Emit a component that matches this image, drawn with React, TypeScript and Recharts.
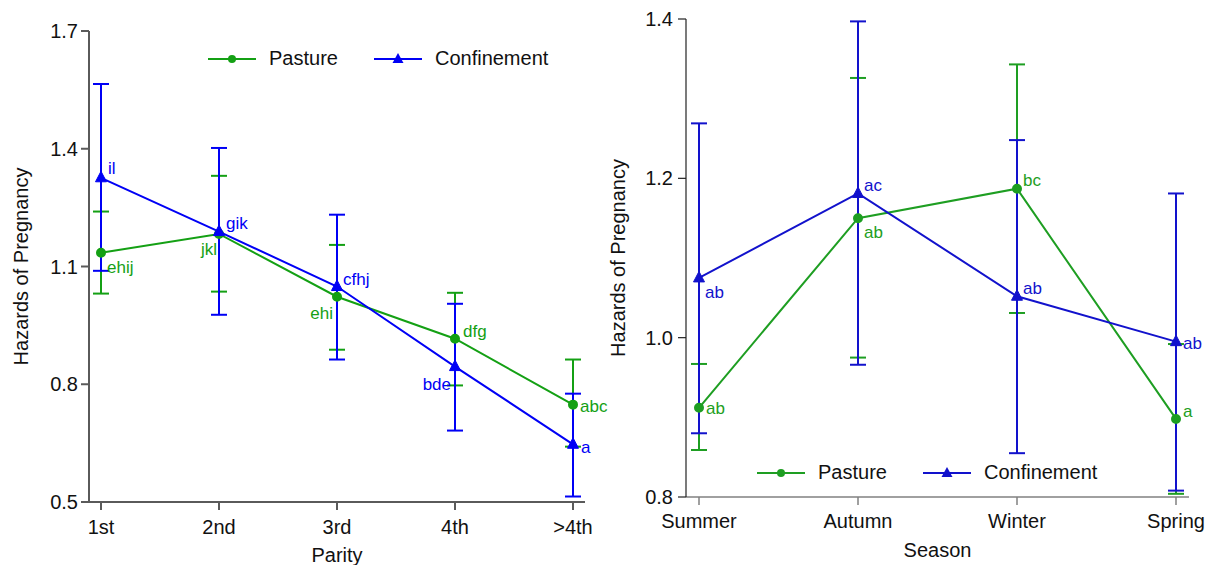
import React from 'react';
import { LineChart, Line, XAxis, YAxis, ErrorBar, LabelList } from 'recharts';

const FONT = '"Liberation Sans", Arial, sans-serif';

// Parity panel
const parityCategories = ['1st', '2nd', '3rd', '4th', '>4th'];
const parityPasture = [1.135, 1.183, 1.023, 0.916, 0.748];
const parityPastureLow = [1.031, 1.036, 0.888, 0.797, 0.641];
const parityPastureHigh = [1.24, 1.331, 1.155, 1.033, 0.863];
const parityPastureLetters = ['ehij', 'jkl', 'ehi', 'dfg', 'abc'];
const parityConfinement = [1.326, 1.189, 1.049, 0.845, 0.647];
const parityConfinementLow = [1.089, 0.977, 0.863, 0.682, 0.514];
const parityConfinementHigh = [1.565, 1.402, 1.232, 1.005, 0.776];
const parityConfinementLetters = ['il', 'gik', 'cfhj', 'bde', 'a'];
const parityTicks = [0.5, 0.8, 1.1, 1.4, 1.7];

// Season panel
const seasonCategories = ['Summer', 'Autumn', 'Winter', 'Spring'];
const seasonPasture = [0.912, 1.15, 1.187, 0.898];
const seasonPastureLow = [0.859, 0.975, 1.031, 0.804];
const seasonPastureHigh = [0.967, 1.326, 1.343, 0.992];
const seasonPastureLetters = ['ab', 'ab', 'bc', 'a'];
const seasonConfinement = [1.075, 1.181, 1.052, 0.995];
const seasonConfinementLow = [0.88, 0.966, 0.855, 0.808];
const seasonConfinementHigh = [1.269, 1.397, 1.248, 1.181];
const seasonConfinementLetters = ['ab', 'ac', 'ab', 'ab'];
const seasonTicks = [0.8, 1.0, 1.2, 1.4];

type Anchor = 'start' | 'end';
type LabelPos = [number, number, Anchor];

// letter placement around each point: dx, dy, anchor
const parityPastureLabelPos: LabelPos[] = [[6, 15, 'start'], [-2, 16, 'end'], [-4, 17, 'end'], [8, -7, 'start'], [7, 2, 'start']];
const parityConfLabelPos: LabelPos[] = [[7, -9, 'start'], [7, -8, 'start'], [6, -7, 'start'], [-4, 18, 'end'], [8, 3, 'start']];
const seasonPastureLabelPos: LabelPos[] = [[7, 1, 'start'], [6, 14, 'start'], [6, -8, 'start'], [7, -7, 'start']];
const seasonConfLabelPos: LabelPos[] = [[6, 15, 'start'], [6, -8, 'start'], [6, -8, 'start'], [7, 2, 'start']];

const buildRows = (
  cats: string[],
  p: number[], pLow: number[], pHigh: number[], pLet: string[],
  c: number[], cLow: number[], cHigh: number[], cLet: string[]
) =>
  cats.map((name, i) => ({
    name,
    pasture: p[i],
    pastureErr: [p[i] - pLow[i], pHigh[i] - p[i]],
    pastureLetter: pLet[i],
    confinement: c[i],
    confinementErr: [c[i] - cLow[i], cHigh[i] - c[i]],
    confinementLetter: cLet[i],
  }));

const parityData = buildRows(
  parityCategories,
  parityPasture, parityPastureLow, parityPastureHigh, parityPastureLetters,
  parityConfinement, parityConfinementLow, parityConfinementHigh, parityConfinementLetters
);
const seasonData = buildRows(
  seasonCategories,
  seasonPasture, seasonPastureLow, seasonPastureHigh, seasonPastureLetters,
  seasonConfinement, seasonConfinementLow, seasonConfinementHigh, seasonConfinementLetters
);

const triangleDot = (color: string) => (props: any) => {
  const { cx, cy, index } = props;
  if (cx == null || cy == null) return <g key={`t-${index}`} />;
  return (
    <path
      key={`t-${index}`}
      d={`M${cx},${cy - 6.5} L${cx + 5.5},${cy + 4} L${cx - 5.5},${cy + 4} Z`}
      fill={color}
      stroke={color}
    />
  );
};

const letterLabel = (pos: LabelPos[], color: string) => (props: any) => {
  const { x, y, index, value } = props;
  const [dx, dy, anchor] = pos[index] || [6, 0, 'start'];
  return (
    <text
      key={`l-${index}`}
      x={x + dx}
      y={y + dy}
      fill={color}
      fontSize={17}
      fontFamily={FONT}
      textAnchor={anchor}
      dominantBaseline="central"
    >
      {value}
    </text>
  );
};

const LegendItem = ({ color, label, marker }: { color: string; label: string; marker: 'circle' | 'triangle' }) => (
  <div style={{ display: 'flex', alignItems: 'center' }}>
    <svg width={48} height={14} style={{ marginRight: 13 }}>
      <line x1={0} y1={7} x2={48} y2={7} stroke={color} strokeWidth={2} />
      {marker === 'circle' ? (
        <circle cx={24} cy={7} r={4} fill={color} />
      ) : (
        <path d="M24,1 L29.5,11 L18.5,11 Z" fill={color} />
      )}
    </svg>
    <span style={{ fontSize: 20, color: '#111', fontFamily: FONT }}>{label}</span>
  </div>
);

const Legend2 = ({ left, top, gap, green, blue }: { left: number; top: number; gap: number; green: string; blue: string }) => (
  <div style={{ position: 'absolute', left, top, display: 'flex', gap }}>
    <LegendItem color={green} label="Pasture" marker="circle" />
    <LegendItem color={blue} label="Confinement" marker="triangle" />
  </div>
);

const tickStyle = { fontSize: 20, fill: '#111', fontFamily: FONT };

// left panel is 600px wide but its svg runs a bit further so the last letter label fits
const ParityChart = () => {
  const green = '#14A014';
  const blue = '#0000F5';
  const axis = '#5a5a5a';
  return (
    <div style={{ position: 'relative', width: 620, height: 565, marginRight: -20, zIndex: 1 }}>
      <LineChart width={620} height={565} data={parityData} margin={{ top: 31, right: 35, bottom: 0, left: 0 }}>
        <XAxis
          dataKey="name"
          height={63}
          padding={{ left: 12, right: 12 }}
          stroke={axis}
          strokeWidth={2}
          tickSize={8}
          tickMargin={10}
          tick={tickStyle}
          label={{ value: 'Parity', position: 'insideBottom', offset: 3, style: { fontSize: 20, fill: '#111', fontFamily: FONT } }}
        />
        <YAxis
          width={89}
          domain={[0.5, 1.7]}
          ticks={parityTicks}
          tickFormatter={(v: number) => v.toFixed(1)}
          stroke={axis}
          strokeWidth={2}
          tickSize={8}
          tickMargin={3}
          tick={tickStyle}
          label={{ value: 'Hazards of Pregnancy', angle: -90, position: 'insideLeft', offset: 21, style: { textAnchor: 'middle', fontSize: 20, fill: '#111', fontFamily: FONT } }}
        />
        <Line dataKey="pasture" stroke={green} strokeWidth={2} isAnimationActive={false} dot={{ r: 4, fill: green, stroke: green }}>
          <ErrorBar dataKey="pastureErr" width={8} strokeWidth={2} stroke={green} direction="y" />
          <LabelList dataKey="pastureLetter" content={letterLabel(parityPastureLabelPos, green)} />
        </Line>
        <Line dataKey="confinement" stroke={blue} strokeWidth={2} isAnimationActive={false} dot={triangleDot(blue)}>
          <ErrorBar dataKey="confinementErr" width={8} strokeWidth={2} stroke={blue} direction="y" />
          <LabelList dataKey="confinementLetter" content={letterLabel(parityConfLabelPos, blue)} />
        </Line>
      </LineChart>
      <Legend2 left={208} top={47} gap={36} green={green} blue={blue} />
    </div>
  );
};

const SeasonChart = () => {
  const green = '#1E9E22';
  const blue = '#1212CC';
  return (
    <div style={{ position: 'relative', width: 612, height: 565 }}>
      <LineChart width={612} height={565} data={seasonData} margin={{ top: 19, right: 23, bottom: 0, left: 0 }}>
        <XAxis
          dataKey="name"
          height={68}
          padding={{ left: 13, right: 13 }}
          stroke="#808080"
          strokeWidth={1.5}
          tickSize={8}
          tickMargin={9}
          tick={tickStyle}
          label={{ value: 'Season', position: 'insideBottom', offset: 8, style: { fontSize: 20, fill: '#111', fontFamily: FONT } }}
        />
        <YAxis
          width={86}
          domain={[0.8, 1.4]}
          ticks={seasonTicks}
          tickFormatter={(v: number) => v.toFixed(1)}
          stroke="#222"
          strokeWidth={1.2}
          tickSize={8}
          tickMargin={5}
          tick={tickStyle}
          label={{ value: 'Hazards of Pregnancy', angle: -90, position: 'insideLeft', offset: 18, style: { textAnchor: 'middle', fontSize: 20, fill: '#111', fontFamily: FONT } }}
        />
        <Line dataKey="pasture" stroke={green} strokeWidth={2} isAnimationActive={false} dot={{ r: 4, fill: green, stroke: green }}>
          <ErrorBar dataKey="pastureErr" width={8} strokeWidth={2} stroke={green} direction="y" />
          <LabelList dataKey="pastureLetter" content={letterLabel(seasonPastureLabelPos, green)} />
        </Line>
        <Line dataKey="confinement" stroke={blue} strokeWidth={2} isAnimationActive={false} dot={triangleDot(blue)}>
          <ErrorBar dataKey="confinementErr" width={8} strokeWidth={2} stroke={blue} direction="y" />
          <LabelList dataKey="confinementLetter" content={letterLabel(seasonConfLabelPos, blue)} />
        </Line>
      </LineChart>
      <Legend2 left={157} top={461} gap={36} green={green} blue={blue} />
    </div>
  );
};

export default function App() {
  return (
    <div style={{ position: 'absolute', left: 0, top: 0, width: 1212, height: 565, display: 'flex', background: '#fff' }}>
      <ParityChart />
      <SeasonChart />
    </div>
  );
}
